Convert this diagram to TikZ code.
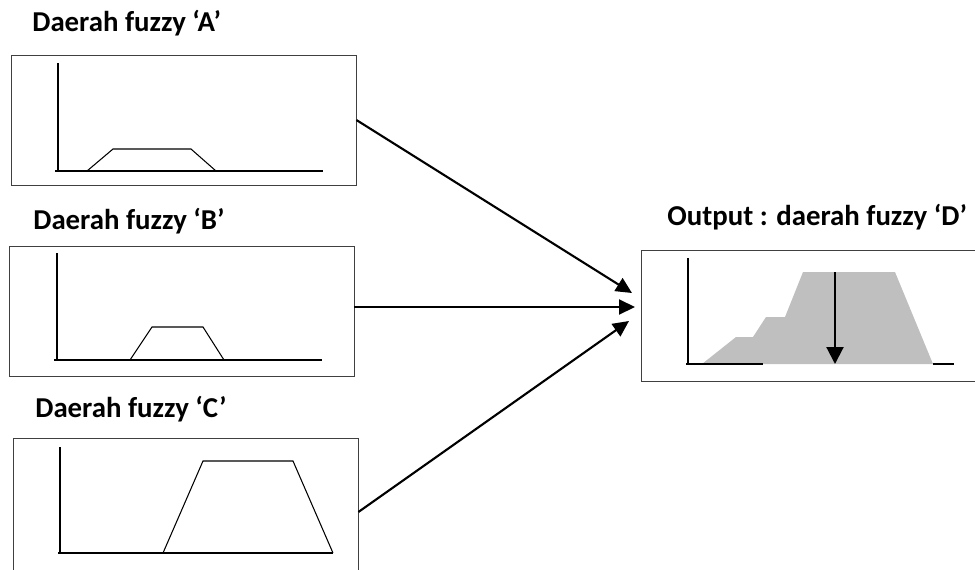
\documentclass[tikz,border=0pt]{standalone}
\usepackage{fontspec}
\setmainfont{Carlito}
\usetikzlibrary{arrows.meta}

\tikzset{
  panel/.style={draw=black!75, line width=0.5pt, inner sep=0pt, minimum width=6.9cm, minimum height=2.6cm},
  title/.style={anchor=base west, inner sep=0pt, font=\bfseries\fontsize{16.4}{19}\selectfont},
  axis/.style={line width=1.1pt},
  mf/.style={line width=0.6pt},
  feed/.style={line width=1.2pt, -{Triangle[length=0.32cm, width=0.3cm]}}
}

\begin{document}
\begin{tikzpicture}[x=0.02cm, y=-0.02cm]
        \clip (0,0) rectangle (975,569);

        \node[title] (titleA) at (32,31) {Daerah fuzzy ‘A’};
        \node[title] (titleB) at (33,229) {Daerah fuzzy ‘B’};
        \node[title] (titleC) at (35,417) {Daerah fuzzy ‘C’};
        \node[title] (titleD) at (667,225) {Output : daerah fuzzy ‘D’};

        \node[panel] (boxA) at (183.5,120) {};
        \node[panel] (boxB) at (181.5,311) {};
        \node[panel, minimum height=3.24cm] (boxC) at (185.5,519) {};
        \node[panel, minimum width=7.18cm, minimum height=2.62cm] (boxD) at (820.5,315.5) {};

        \draw[axis] (58,63)--(58,171) (55,171)--(323,171);
        \draw[mf] (87,171)--(113,149)--(191,149)--(216,171);

        \draw[axis] (57,253)--(57,360) (54,360)--(322,360);
        \draw[mf] (130,360)--(152,327)--(203,327)--(224,360);

        \draw[axis] (60,447)--(60,553) (58,553)--(333,553);
        \draw[mf] (163,553)--(203,461)--(293,461)--(333,553);

        \draw[axis] (688,258)--(688,364) (686,364)--(763,364) (933,364)--(954,364);
        \fill[black!25] (702,364)--(736,337)--(753,337)--(766,317)--(785,317)
            --(803,272)--(895,272)--(933,364)--cycle;
        \draw[axis] (686,364)--(763,364);
        \draw[line width=1.2pt, -{Triangle[length=0.34cm, width=0.34cm]}] (835,272)--(835,364);

        \coordinate (tipA) at (632,293);
        \coordinate (tipB) at (635,307);
        \coordinate (tipC) at (629,321);
        \draw[feed] (boxA.east)--(tipA);
        \draw[feed] (boxB.east |- tipB)--(tipB);
        \draw[feed] ([yshift=0.14cm]boxC.east)--(tipC);
    \end{tikzpicture}
\end{document}
